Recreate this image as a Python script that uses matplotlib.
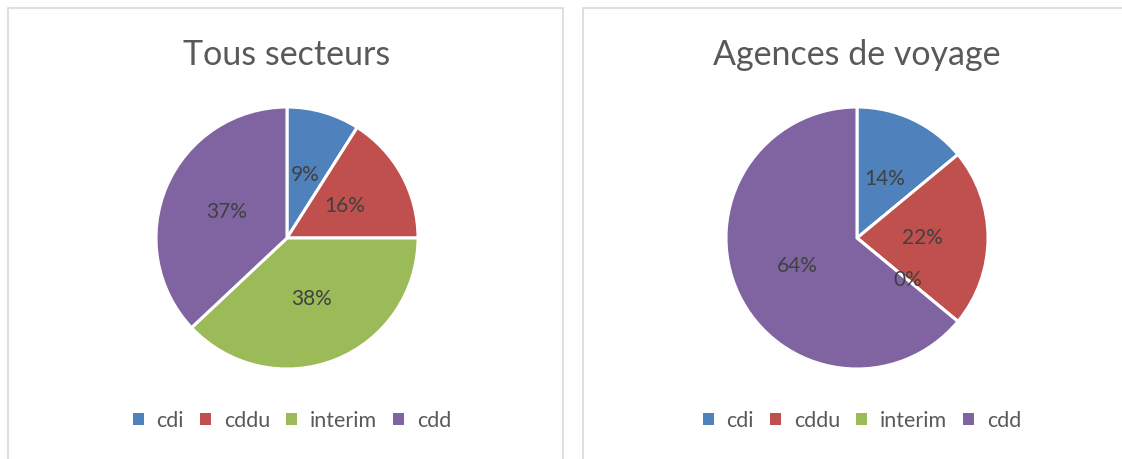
import matplotlib
matplotlib.use("Agg")
import matplotlib.pyplot as plt
from matplotlib.patches import Rectangle, Patch

categories = ["cdi", "cddu", "interim", "cdd"]
tous_secteurs = [9, 16, 38, 37]
agences_voyage = [14, 22, 0, 64]
titles = ["Tous secteurs", "Agences de voyage"]
colors = ["#4F81BD", "#C0504D", "#9BBB59", "#8064A2"]

plt.rcParams["font.family"] = ["Lato", "DejaVu Sans"]

W, H = 1122, 459
fig = plt.figure(figsize=(W / 100, H / 100), dpi=100)
fig.patch.set_facecolor("white")

# panel frames (pixel coords -> figure fraction)
def px(x, y):
    return x / W, 1 - y / H

for x0, x1 in [(8, 563), (583, 1130)]:
    fig.patches.append(Rectangle(px(x0, 470), (x1 - x0) / W, (470 - 8) / H,
                                 transform=fig.transFigure, fill=False,
                                 edgecolor="#D9D9D9", linewidth=1.2))

R = 131
for cx, title, vals in [(287, titles[0], tous_secteurs), (857, titles[1], agences_voyage)]:
    ax = fig.add_axes([(cx - R) / W, (H - 238 - R) / H, 2 * R / W, 2 * R / H])
    wedges, _, autotexts = ax.pie(
        vals, colors=colors, startangle=90, counterclock=False, radius=1,
        autopct=lambda p: f"{p:.0f}%", pctdistance=0.5,
        wedgeprops=dict(edgecolor="white", linewidth=2.2),
        textprops=dict(color="#404040", fontsize=15))
    ax.set_xlim(-1, 1)
    ax.set_ylim(-1, 1)
    ax.set_aspect("equal")
    ax.axis("off")

    fig.text(*px(cx, 55), title, ha="center", va="center",
             fontsize=24.5, color="#595959")

    handles = [Patch(facecolor=c, edgecolor="none") for c in colors]
    fig.legend(handles, categories, loc="center", bbox_to_anchor=px(cx + 5, 421),
               ncol=4, frameon=False, fontsize=15.5, labelcolor="#595959",
               handlelength=0.5, handleheight=0.5, handletextpad=0.6,
               columnspacing=0.75)

fig.savefig("out.png", dpi=100, facecolor="white")
